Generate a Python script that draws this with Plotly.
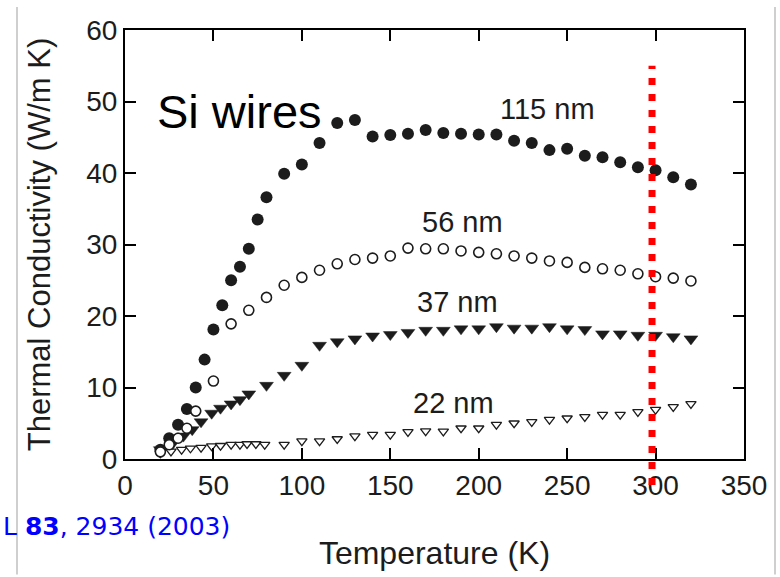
import plotly.graph_objects as go

# ---------------- data ----------------
T_115 = [20, 25, 30, 35, 40, 45, 50, 55, 60, 65, 70, 75, 80, 90, 100, 110, 120, 130,
         140, 150, 160, 170, 180, 190, 200, 210, 220, 230, 240, 250, 260, 270, 280,
         290, 300, 310, 320]
K_115 = [1.3, 2.9, 4.8, 7.0, 10.0, 13.9, 18.1, 21.5, 25.0, 26.9, 29.4, 33.5, 36.6,
         39.9, 41.2, 44.2, 47.0, 47.4, 45.1, 45.3, 45.5, 46.0, 45.6, 45.5, 45.4,
         45.4, 44.5, 44.2, 43.2, 43.4, 42.4, 42.2, 41.5, 40.8, 40.4, 39.4, 38.4]

T_56 = [20, 25, 30, 35, 40, 50, 60, 70, 80, 90, 100, 110, 120, 130, 140, 150, 160,
        170, 180, 190, 200, 210, 220, 230, 240, 250, 260, 270, 280, 290, 300, 310, 320]
K_56 = [1.0, 2.0, 2.9, 4.3, 6.7, 10.9, 18.9, 20.8, 22.6, 24.3, 25.4, 26.4, 27.3,
        27.9, 28.1, 28.4, 29.5, 29.4, 29.4, 29.1, 28.9, 28.7, 28.4, 28.1, 27.7,
        27.5, 26.8, 26.6, 26.4, 25.9, 25.5, 25.3, 24.9]

T_37 = [20, 27, 33, 38, 43, 49, 54, 60, 65, 70, 80, 90, 100, 110, 120, 130, 140,
        150, 160, 170, 180, 190, 200, 210, 220, 230, 240, 250, 260, 270, 280, 290,
        300, 310, 320]
K_37 = [1.3, 2.2, 3.2, 4.1, 5.2, 6.4, 7.1, 7.7, 8.3, 9.1, 10.3, 11.7, 13.1, 15.9,
        16.4, 16.8, 17.2, 17.4, 17.7, 18.0, 18.0, 18.2, 18.2, 18.5, 18.3, 18.3,
        18.5, 18.2, 18.1, 17.5, 17.5, 17.3, 17.3, 17.1, 16.8]

T_22 = [20, 26, 32, 37, 43, 49, 54, 60, 65, 69, 74, 79, 90, 100, 110, 120, 130,
        140, 150, 160, 170, 180, 190, 200, 210, 220, 230, 240, 250, 260, 270, 280,
        290, 300, 310, 320]
K_22 = [0.8, 1.07, 1.3, 1.5, 1.6, 1.8, 1.85, 2.0, 2.0, 2.1, 2.1, 2.0, 2.0, 2.5,
        2.5, 2.8, 3.2, 3.4, 3.4, 3.8, 3.9, 3.85, 4.3, 4.3, 4.8, 5.0, 5.2, 5.5,
        5.7, 5.9, 6.2, 6.2, 6.6, 6.9, 7.3, 7.7]

SERIES_LABELS = ["115 nm", "56 nm", "37 nm", "22 nm"]
LABEL_POS = [(239, 49.0), (191, 33.1), (188, 22.0), (186, 7.8)]

X_TICKS = [0, 50, 100, 150, 200, 250, 300, 350]
Y_TICKS = [0, 10, 20, 30, 40, 50, 60]
ROOM_T = 298
X_TITLE = "Temperature (K)"
Y_TITLE = "Thermal Conductivity (W/m K)"
PANEL_TEXT = "Si wires"
CITATION = "L <b>83</b>, 2934 (2003)"

# ---------------- layout geometry ----------------
W, H = 780, 577
PX_L, PX_R, PX_T, PX_B = 125, 744, 30, 461


def px_x(px):
    return (px - PX_L) / (PX_R - PX_L)


def px_y(py):
    return (PX_B - py) / (PX_B - PX_T)


INK = "#1c1c1c"
FONT = "Liberation Sans, Arial, Helvetica, sans-serif"

fig = go.Figure()

fig.add_trace(go.Scatter(
    x=T_22, y=K_22, mode="markers", name="22 nm",
    marker=dict(symbol="triangle-down", size=9, color="white",
                line=dict(color=INK, width=1.3))))
fig.add_trace(go.Scatter(
    x=T_37, y=K_37, mode="markers", name="37 nm",
    marker=dict(symbol="triangle-down", size=12, color=INK,
                line=dict(color=INK, width=0.5))))
fig.add_trace(go.Scatter(
    x=T_115, y=K_115, mode="markers", name="115 nm",
    marker=dict(symbol="circle", size=12, color=INK,
                line=dict(color=INK, width=0))))
fig.add_trace(go.Scatter(
    x=T_56, y=K_56, mode="markers", name="56 nm",
    marker=dict(symbol="circle", size=10, color="white",
                line=dict(color=INK, width=1.6))))

for lab, (lx, ly) in zip(SERIES_LABELS, LABEL_POS):
    fig.add_annotation(x=lx, y=ly, xref="x", yref="y", text=lab, showarrow=False,
                       font=dict(family=FONT, size=29, color=INK),
                       xanchor="center", yanchor="middle")

fig.add_annotation(x=65, y=48.6, xref="x", yref="y", text=PANEL_TEXT, showarrow=False,
                   font=dict(family=FONT, size=47, color="black"),
                   xanchor="center", yanchor="middle")

# red dotted marker of room temperature
fig.add_shape(type="line", xref="x", yref="paper", x0=ROOM_T, x1=ROOM_T,
              y0=px_y(487), y1=px_y(66),
              line=dict(color="#ff0000", width=7, dash="7px,9px"))

# slide frame lines
for fx in (17, 775):
    fig.add_shape(type="line", xref="paper", yref="paper",
                  x0=px_x(fx), x1=px_x(fx), y0=px_y(7), y1=px_y(H),
                  line=dict(color="#cfcfcf", width=2))

# citation (left part cut by the slide edge in the original)
fig.add_annotation(x=px_x(1), y=px_y(529), xref="paper", yref="paper",
                   text=CITATION, showarrow=False, xanchor="left", yanchor="middle",
                   font=dict(family="DejaVu Sans, Verdana, sans-serif", size=25,
                             color="#0000ff"))

axis_common = dict(showline=True, linecolor="black", linewidth=2, mirror="ticks",
                   ticks="inside", ticklen=11, tickwidth=2, tickcolor="black",
                   showgrid=False, zeroline=False,
                   tickfont=dict(family=FONT, size=28, color=INK))

fig.update_xaxes(range=[0, 350], tickvals=X_TICKS, **axis_common,
                 title=dict(text=X_TITLE, font=dict(family=FONT, size=32, color=INK),
                            standoff=42))
fig.update_yaxes(range=[0, 60], tickvals=Y_TICKS, **axis_common,
                 title=dict(text=Y_TITLE, font=dict(family=FONT, size=31, color=INK),
                            standoff=26))

fig.update_layout(
    width=W, height=H,
    margin=dict(l=PX_L, r=W - PX_R, t=PX_T, b=H - PX_B),
    paper_bgcolor="white", plot_bgcolor="white",
    showlegend=False,
)

fig.write_html("out.html")
